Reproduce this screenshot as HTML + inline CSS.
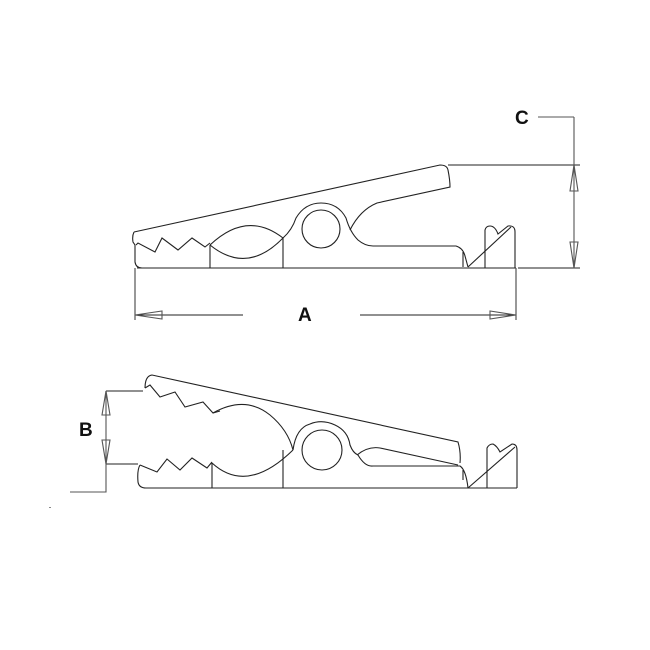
<!DOCTYPE html>
<html><head><meta charset="utf-8"><style>
html,body{margin:0;padding:0;background:#fff;width:650px;height:650px;overflow:hidden}
svg{display:block}
text{font-family:"Liberation Sans",sans-serif;font-weight:bold;font-size:19px;fill:#111}
</style></head><body>
<svg width="650" height="650" viewBox="0 0 650 650" xmlns="http://www.w3.org/2000/svg">
<g fill="none" stroke="#222" stroke-width="1.1">
<!-- TOP CLIP -->
<path d="M134,232 L440,165 Q447,165 448,170 Q450,180 450,187 L377,203 Q360,210 350,230"/>
<path d="M283,238 Q292,230 296,218 Q305,203 321,203 Q338,203 346,218 Q350,232 358,240 Q365,246 373,246 L456,246 Q463,248 465,256 L468,267"/>
<circle cx="321" cy="229" r="19"/>
<path d="M137,268 L516,268"/>
<path d="M134,232 Q132,236 133,242 L135,245 L135,262 Q136,268 142,268"/>
<path d="M136,245 L138,243 L155,252 L162,238 L178,250 L192,238 L205,247 L210,243"/>
<path d="M210,245 Q247,210 283,238"/>
<path d="M210,245 Q247,275 283,238"/>
<path d="M210,245 L210,268 M283,238 L283,268 M463,252 L463,267"/>
<path d="M485,268 L485,230 Q486,226 490,226 Q495,226 498,234 L508,226 Q515,225 515,232 L515,268"/>
<path d="M468,267 L511,227"/>
<!-- top dims -->
<path d="M448,165 L580,165 M518,268 L580,268"/>
<path d="M574,117 L574,268 M538,117 L574,117" stroke="#555"/>
<path d="M574,165 L570,191 L578,191 Z M574,268 L570,242 L578,242 Z" stroke="#555"/>
<path d="M135,268 L135,320 M516,268 L516,320" stroke="#444"/>
<path d="M135,315 L243,315 M360,315 L516,315"/>
<path d="M135,315 L162,311 L162,319 Z M516,315 L490,311 L490,319 Z" stroke="#555"/>
<!-- BOTTOM CLIP -->
<path d="M145,388 Q145,376 152,375 L458,442 Q461,452 460,463"/>
<path d="M145,388 L150,385 L160,397 L175,392 L185,407 L203,402 L213,413 L220,411"/>
<path d="M213,413 Q245,395 270,415 Q288,430 293,450"/>
<path d="M212,463 Q247,495 293,450"/>
<path d="M293,450 Q296,428 310,424 Q322,419 335,425 Q348,431 350,445 Q353,453 358,455 Q365,467 373,466 L460,466 Q466,470 468,488"/>
<path d="M357,455 Q368,446 380,448 L458,465"/>
<circle cx="322" cy="450" r="20"/>
<path d="M140,465 L157,472 L167,459 L180,470 L192,458 L207,468 L212,462"/>
<path d="M140,465 Q137,470 138,482 Q139,488 146,488 L517,488"/>
<path d="M212,463 L212,488 M283,450 L283,488 M463,470 L463,480"/>
<path d="M487,488 L487,448 Q489,444 493,444 Q497,446 500,452 L512,444 Q517,444 517,450 L517,488"/>
<path d="M468,488 L515,447"/>
<!-- B dim -->
<path d="M106,391 L143,391 M106,464 L138,464"/>
<path d="M106,391 L106,492 L70,492" stroke="#555"/>
<path d="M106,391 L102,415 L110,415 Z M106,464 L102,440 L110,440 Z" stroke="#555"/>
</g>
<text x="515" y="124">C</text>
<text x="298" y="321">A</text>
<text x="79" y="436">B</text>
<rect x="49" y="507" width="2" height="1" fill="#888"/>
</svg>
</body></html>
